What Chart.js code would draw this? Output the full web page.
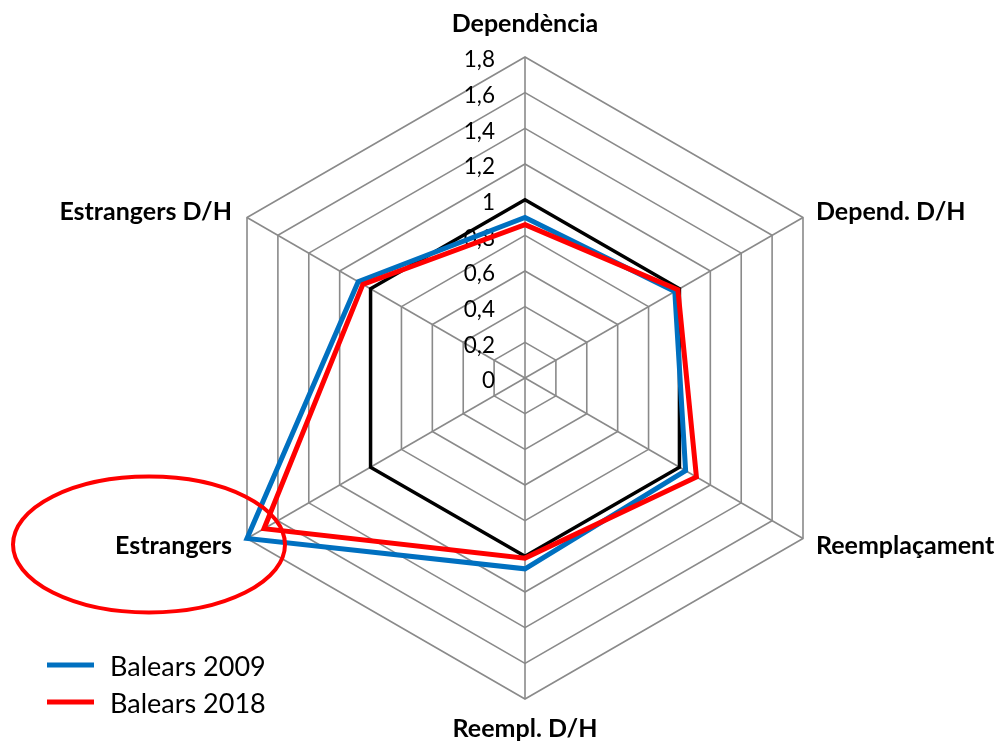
<!DOCTYPE html>
<html><head><meta charset="utf-8">
<script src="https://cdn.jsdelivr.net/npm/chart.js@4.4.1/dist/chart.umd.min.js"></script>
<style>html,body{margin:0;padding:0;background:#fff;}#wrap{position:relative;width:1007px;height:743px;}</style>
</head><body><div id="wrap"><canvas id="c" width="1007" height="743"></canvas></div>
<script>
const categories = ['Dependència', 'Depend. D/H', 'Reemplaçament', 'Reempl. D/H', 'Estrangers', 'Estrangers D/H'];
const tickLabels = ['0', '0,2', '0,4', '0,6', '0,8', '1', '1,2', '1,4', '1,6', '1,8'];
const seriesNames = ['Balears 2009', 'Balears 2018'];
const balears2009 = [0.90, 0.97, 1.04, 1.07, 1.80, 1.08];
const balears2018 = [0.86, 0.99, 1.11, 1.01, 1.69, 1.05];
const referenceLine = [1, 1, 1, 1, 1, 1];

const overlay = {
  id: 'overlay',
  beforeDatasetsDraw(chart) {
    const s = chart.scales.r, ctx = chart.ctx;
    ctx.save();
    ctx.font = '22.5px Lato';
    ctx.fillStyle = '#000';
    ctx.textAlign = 'right';
    ctx.textBaseline = 'middle';
    s.ticks.forEach((t, i) => {
      const d = s.getDistanceFromCenterForValue(t.value);
      ctx.fillText(tickLabels[i], s.xCenter - 30, s.yCenter - d + 3);
    });
    ctx.restore();
  },
  afterDraw(chart) {
    const s = chart.scales.r, ctx = chart.ctx;
    ctx.save();
    // point labels
    ctx.font = 'bold 25px Lato';
    ctx.fillStyle = '#000';
    ctx.textBaseline = 'middle';
    categories.forEach((lab, i) => {
      const p = s.getPointPosition(i, s.drawingArea);
      const dx = p.x - s.xCenter, dy = p.y - s.yCenter;
      let x = p.x, y = p.y;
      if (Math.abs(dx) < 1) {
        ctx.textAlign = 'center';
        y += dy < 0 ? -33 : 30;
      } else {
        ctx.textAlign = dx > 0 ? 'left' : 'right';
        x += dx > 0 ? 13 : -15;
        y += dy < 0 ? -6 : 7;
      }
      ctx.fillText(lab, x, y);
    });
    // highlight ellipse around "Estrangers"
    const e = s.getPointPosition(4, s.drawingArea);
    ctx.beginPath();
    ctx.strokeStyle = '#FF0000';
    ctx.lineWidth = 4;
    ctx.ellipse(e.x - 98, e.y + 6, 136, 68, 0, 0, Math.PI * 2);
    ctx.stroke();
    // legend
    ctx.font = '27px Lato';
    ctx.textAlign = 'left';
    seriesNames.forEach((name, i) => {
      const ds = chart.data.datasets.find(d => d.label === name);
      const y = 665 + i * 37;
      ctx.beginPath();
      ctx.strokeStyle = ds.borderColor;
      ctx.lineWidth = 5;
      ctx.moveTo(47, y);
      ctx.lineTo(94, y);
      ctx.stroke();
      ctx.fillStyle = '#000';
      ctx.fillText(name, 110, y + 2);
    });
    ctx.restore();
  }
};

new Chart(document.getElementById('c'), {
  type: 'radar',
  data: {
    labels: categories,
    datasets: [
      { label: 'Balears 2018', data: balears2018, borderColor: '#FF0000', borderWidth: 5, fill: false, pointRadius: 0, borderJoinStyle: 'miter', order: 1 },
      { label: 'Balears 2009', data: balears2009, borderColor: '#0070C0', borderWidth: 5, fill: false, pointRadius: 0, borderJoinStyle: 'miter', order: 2 },
      { label: 'Referència', data: referenceLine, borderColor: '#000000', borderWidth: 3.5, fill: false, pointRadius: 0, borderJoinStyle: 'miter', order: 3 }
    ]
  },
  options: {
    responsive: false,
    animation: false,
    devicePixelRatio: 1,
    layout: { padding: { left: 204, right: 160, top: 57, bottom: 43 } },
    plugins: { legend: { display: false }, tooltip: { enabled: false } },
    elements: { line: { tension: 0 } },
    scales: {
      r: {
        min: 0, max: 1.8,
        ticks: { display: false, stepSize: 0.2 },
        pointLabels: { display: false },
        grid: { color: '#8a8a8a', lineWidth: 1.6 },
        angleLines: { color: '#8a8a8a', lineWidth: 1.6 }
      }
    }
  },
  plugins: [overlay]
});
</script>
</body></html>
